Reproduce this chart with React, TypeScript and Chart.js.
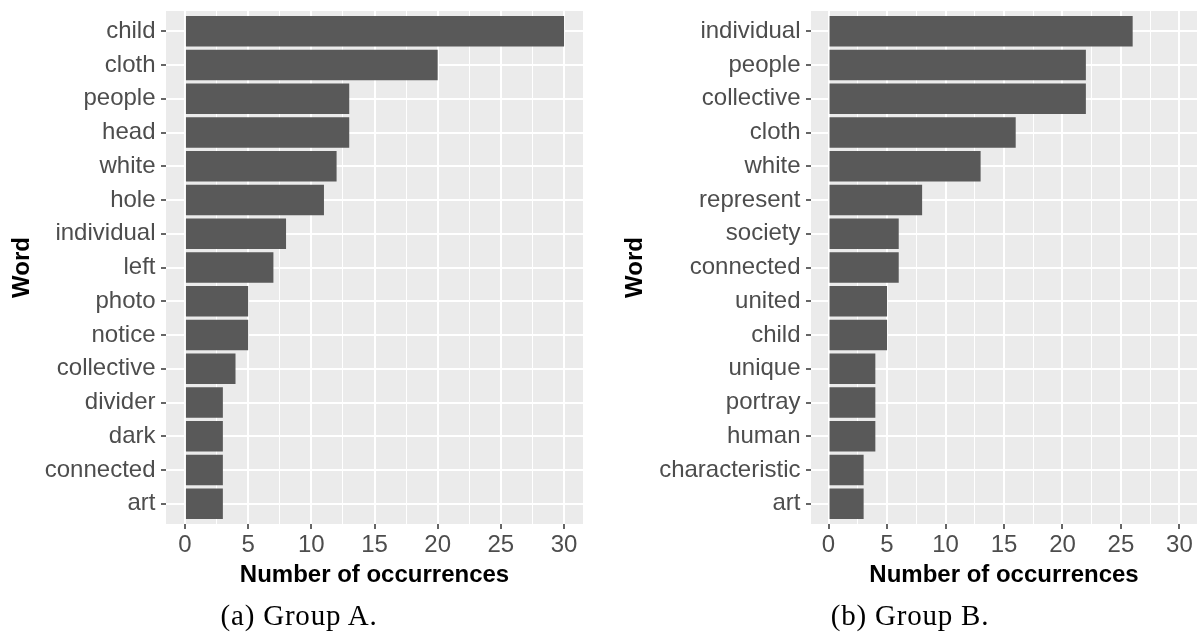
import React, { useEffect, useRef } from "react";
import { Chart, registerables } from "chart.js";

Chart.register(...registerables);

// ---- Data ----
const wordsA = ["child", "cloth", "people", "head", "white", "hole", "individual", "left", "photo", "notice", "collective", "divider", "dark", "connected", "art"];
const countsA = [30, 20, 13, 13, 12, 11, 8, 7, 5, 5, 4, 3, 3, 3, 3];

const wordsB = ["individual", "people", "collective", "cloth", "white", "represent", "society", "connected", "united", "child", "unique", "portray", "human", "characteristic", "art"];
const countsB = [26, 22, 22, 16, 13, 8, 6, 6, 5, 5, 4, 4, 4, 3, 3];

const xTickValues = [0, 2.5, 5, 7.5, 10, 12.5, 15, 17.5, 20, 22.5, 25, 27.5, 30];
const xLabelTicks = [0, 5, 10, 15, 20, 25, 30];

const xTitleText = "Number of occurrences";
const yTitleText = "Word";
const captionA = "(a) Group A.";
const captionB = "(b) Group B.";

const W = 600;
const H = 641;

const panelBg = {
  id: "panelBg",
  beforeDraw(chart: any) {
    const { ctx, chartArea: a } = chart;
    ctx.save();
    ctx.fillStyle = "#EBEBEB";
    ctx.fillRect(a.left, a.top, a.right - a.left, a.bottom - a.top);
    ctx.restore();
  },
};

type PanelProps = {
  words: string[];
  counts: number[];
  yAxisWidth: number;
  rightPad: number;
  wordPad: number;
};

function Panel({ words, counts, yAxisWidth, rightPad, wordPad }: PanelProps) {
  const ref = useRef<HTMLCanvasElement | null>(null);
  useEffect(() => {
    if (!ref.current) return;
    const isMajor = (v: number) => xLabelTicks.includes(v);
    const chart = new Chart(ref.current, {
      type: "bar",
      data: {
        datasets: [
          {
            data: words.map((w, i) => ({ x: counts[i], y: i })) as any,
            backgroundColor: "#595959",
            borderWidth: 0,
            barPercentage: 0.9,
            categoryPercentage: 1,
          },
        ],
      },
      options: {
        indexAxis: "y",
        responsive: false,
        animation: false,
        layout: { padding: { top: 11, right: rightPad, left: 0, bottom: 0 } },
        plugins: { legend: { display: false }, tooltip: { enabled: false } },
        scales: {
          x: {
            type: "linear",
            position: "bottom",
            min: -1.5,
            max: 31.5,
            offset: false,
            afterBuildTicks: (s: any) => {
              s.ticks = xTickValues.map((v) => ({ value: v }));
            },
            afterFit: (s: any) => {
              s.height = H - 524;
              s.paddingLeft = 0;
              s.paddingRight = 0;
              s.paddingTop = 0;
              s.paddingBottom = 0;
            },
            ticks: {
              autoSkip: false,
              maxRotation: 0,
              padding: 1.6,
              color: "#4D4D4D",
              font: { family: "'Liberation Sans', Arial, sans-serif", size: 24 },
              callback: (v: any) => (xLabelTicks.includes(Number(v)) ? String(v) : ""),
            },
            grid: {
              offset: false,
              color: "#FFFFFF",
              lineWidth: (ctx: any) => (isMajor(ctx.tick?.value) ? 2 : 1),
              tickColor: (ctx: any) => (isMajor(ctx.tick?.value) ? "#333333" : "rgba(0,0,0,0)"),
              tickLength: 5,
              tickWidth: 1.5,
              drawTicks: true,
            },
            border: { display: false },
            title: {
              display: true,
              text: xTitleText,
              color: "#000000",
              font: { family: "'Liberation Sans', Arial, sans-serif", size: 24, weight: "bold" },
              padding: { top: 0, bottom: 51 },
            },
          },
          y: {
            type: "linear",
            min: -0.6,
            max: 14.6,
            reverse: true,
            offset: false,
            afterBuildTicks: (s: any) => {
              s.ticks = words.map((_, i) => ({ value: i }));
            },
            afterFit: (s: any) => {
              s.width = yAxisWidth;
              s.paddingLeft = 0;
              s.paddingRight = 0;
              s.paddingTop = 0;
              s.paddingBottom = 0;
            },
            ticks: {
              autoSkip: false,
              padding: 5.5,
              color: "#4D4D4D",
              font: { family: "'Liberation Sans', Arial, sans-serif", size: 24 },
              callback: (v: any) => words[Number(v)] ?? "",
            },
            grid: {
              offset: false,
              color: "#FFFFFF",
              lineWidth: 2,
              tickColor: "#333333",
              tickLength: 5,
              tickWidth: 1.5,
              drawTicks: true,
            },
            border: { display: false },
            title: {
              display: true,
              text: yTitleText,
              color: "#000000",
              font: { family: "'Liberation Sans', Arial, sans-serif", size: 24, weight: "bold" },
              padding: { top: wordPad, bottom: 0 },
            },
          },
        },
      } as any,
      plugins: [panelBg],
    });
    return () => chart.destroy();
  }, [words, counts, yAxisWidth, rightPad, wordPad]);
  return <canvas ref={ref} width={W} height={H} style={{ display: "block", width: W, height: H }} />;
}

const captionStyle = (center: number): React.CSSProperties => ({
  position: "absolute",
  top: 600,
  left: center - 150,
  width: 300,
  height: 30,
  lineHeight: "30px",
  textAlign: "center",
  fontFamily: "'Liberation Serif', 'Times New Roman', serif",
  fontSize: 29,
  letterSpacing: "0.8px",
  color: "#000",
  whiteSpace: "nowrap",
});

export default function App() {
  return (
    <div style={{ position: "fixed", left: 0, top: 0, width: 1200, height: H, background: "#fff", overflow: "hidden" }}>
      <div style={{ position: "absolute", left: 0, top: 0, width: W, height: H }}>
        <Panel words={wordsA} counts={countsA} yAxisWidth={166} rightPad={17} wordPad={8} />
      </div>
      <div style={{ position: "absolute", left: 600, top: 0, width: W, height: H }}>
        <Panel words={wordsB} counts={countsB} yAxisWidth={211} rightPad={3} wordPad={20.6} />
      </div>
      <div style={captionStyle(299)}>{captionA}</div>
      <div style={captionStyle(910)}>{captionB}</div>
    </div>
  );
}
